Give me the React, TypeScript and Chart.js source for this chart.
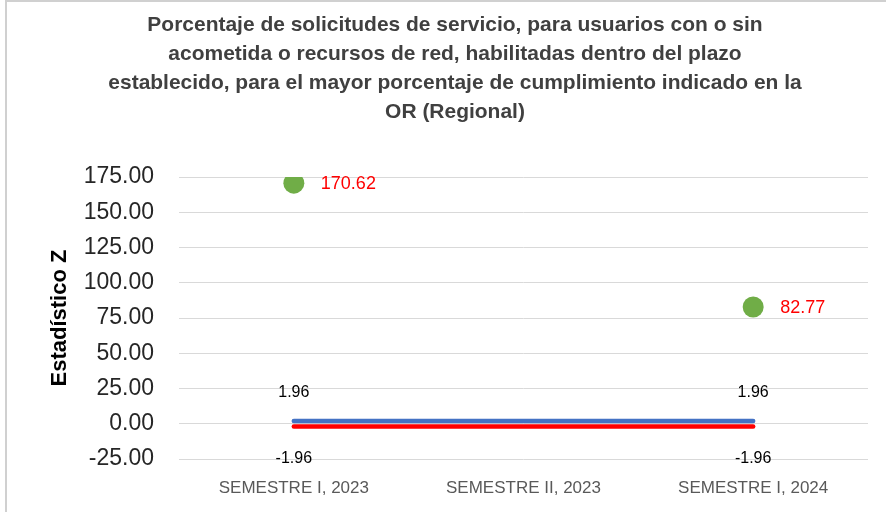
import { useEffect, useRef } from "react";
import { Chart, registerables } from "chart.js";

Chart.register(...registerables);

const titleLines = [
  "Porcentaje de solicitudes de servicio, para usuarios con o sin",
  "acometida o recursos de red, habilitadas dentro del plazo",
  "establecido, para el mayor porcentaje de cumplimiento indicado en la",
  "OR (Regional)",
];
const categories = ["SEMESTRE I, 2023", "SEMESTRE II, 2023", "SEMESTRE I, 2024"];
const zValues: (number | null)[] = [170.62, null, 82.77];
const upperLimit = [1.96, 1.96, 1.96];
const lowerLimit = [-1.96, -1.96, -1.96];
const limitLabelShown = [true, false, true];
const yMin = -25;
const yMax = 175;
const yStep = 25;
const yAxisTitle = "Estadístico Z";

const FONT = "'Liberation Sans', Arial, sans-serif";

const decorPlugin = {
  id: "decor",
  beforeDraw(chart: any) {
    const ctx = chart.ctx;
    ctx.save();
    ctx.fillStyle = "#ffffff";
    ctx.fillRect(0, 0, chart.width, chart.height);
    ctx.strokeStyle = "#d0d0d0";
    ctx.lineWidth = 2;
    ctx.beginPath();
    ctx.moveTo(6, chart.height + 2);
    ctx.lineTo(6, 1);
    ctx.lineTo(chart.width + 2, 1);
    ctx.stroke();
    ctx.restore();
  },
  afterDraw(chart: any) {
    const ctx = chart.ctx;
    const area = chart.chartArea;
    ctx.save();
    let size = 18;
    ctx.font = `bold ${size}px ${FONT}`;
    const w = ctx.measureText(titleLines[2]).width;
    size = (size * 694) / w;
    ctx.font = `bold ${size}px ${FONT}`;
    ctx.fillStyle = "#404040";
    ctx.textAlign = "center";
    ctx.textBaseline = "middle";
    const tops = [25, 54, 83, 112];
    titleLines.forEach((t, i) => ctx.fillText(t, 455, tops[i]));
    ctx.font = `bold 22px ${FONT}`;
    ctx.fillStyle = "#000000";
    ctx.translate(60, (area.top + area.bottom) / 2);
    ctx.rotate(-Math.PI / 2);
    ctx.fillText(yAxisTitle, 0, 0);
    ctx.restore();
  },
  afterDatasetsDraw(chart: any) {
    const ctx = chart.ctx;
    ctx.save();
    ctx.textBaseline = "middle";
    ctx.font = `16px ${FONT}`;
    ctx.fillStyle = "#000000";
    ctx.textAlign = "center";
    const up = chart.getDatasetMeta(0);
    const lo = chart.getDatasetMeta(1);
    upperLimit.forEach((v, i) => {
      if (!limitLabelShown[i]) return;
      const p = up.data[i];
      ctx.fillText(v.toFixed(2), p.x, p.y - 28);
    });
    lowerLimit.forEach((v, i) => {
      if (!limitLabelShown[i]) return;
      const p = lo.data[i];
      ctx.fillText(v.toFixed(2), p.x, p.y + 32);
    });
    ctx.font = `18px ${FONT}`;
    ctx.fillStyle = "#ff0000";
    ctx.textAlign = "left";
    const zm = chart.getDatasetMeta(2);
    zValues.forEach((v, i) => {
      if (v === null) return;
      const p = zm.data[i];
      ctx.fillText(v.toFixed(2), p.x + 27, p.y + 1);
    });
    ctx.restore();
  },
};

export default function App() {
  const ref = useRef<HTMLCanvasElement | null>(null);
  useEffect(() => {
    document.body.style.margin = "0";
    const chart = new Chart(ref.current!, {
      type: "line",
      data: {
        labels: categories,
        datasets: [
          {
            label: "Límite superior",
            data: upperLimit,
            borderColor: "#4472C4",
            backgroundColor: "#4472C4",
            borderWidth: 4.5,
            pointRadius: 0,
            borderCapStyle: "round",
          },
          {
            label: "Límite inferior",
            data: lowerLimit,
            borderColor: "#FF0000",
            backgroundColor: "#FF0000",
            borderWidth: 4.5,
            pointRadius: 0,
            borderCapStyle: "round",
          },
          {
            label: "Estadístico Z",
            data: zValues,
            showLine: false,
            borderColor: "#70AD47",
            backgroundColor: "#70AD47",
            pointRadius: 10.5,
            pointBorderWidth: 0,
          },
        ],
      },
      options: {
        responsive: false,
        animation: false,
        layout: { padding: { left: 0, right: 18, top: 177, bottom: 13 } },
        plugins: {
          legend: { display: false },
          title: { display: false },
          tooltip: { enabled: false },
        },
        scales: {
          x: {
            offset: true,
            afterFit: (s: any) => {
              s.height = 40;
            },
            grid: { display: false, drawTicks: false, offset: true },
            border: { display: false },
            ticks: {
              padding: 19,
              color: "#595959",
              font: { family: FONT, size: 17 },
              maxRotation: 0,
              autoSkip: false,
            },
          },
          y: {
            min: yMin,
            max: yMax,
            afterFit: (s: any) => {
              s.width = 179;
            },
            grid: { color: "#D9D9D9", lineWidth: 1, drawTicks: false },
            border: { display: false },
            ticks: {
              stepSize: yStep,
              padding: 25,
              color: "#262626",
              font: { family: FONT, size: 23 },
              callback: (v: any) => Number(v).toFixed(2),
            },
          },
        },
      },
      plugins: [decorPlugin],
    });
    return () => chart.destroy();
  }, []);
  return (
    <div style={{ width: 886, height: 512 }}>
      <canvas ref={ref} width={886} height={512} style={{ display: "block" }} />
    </div>
  );
}
